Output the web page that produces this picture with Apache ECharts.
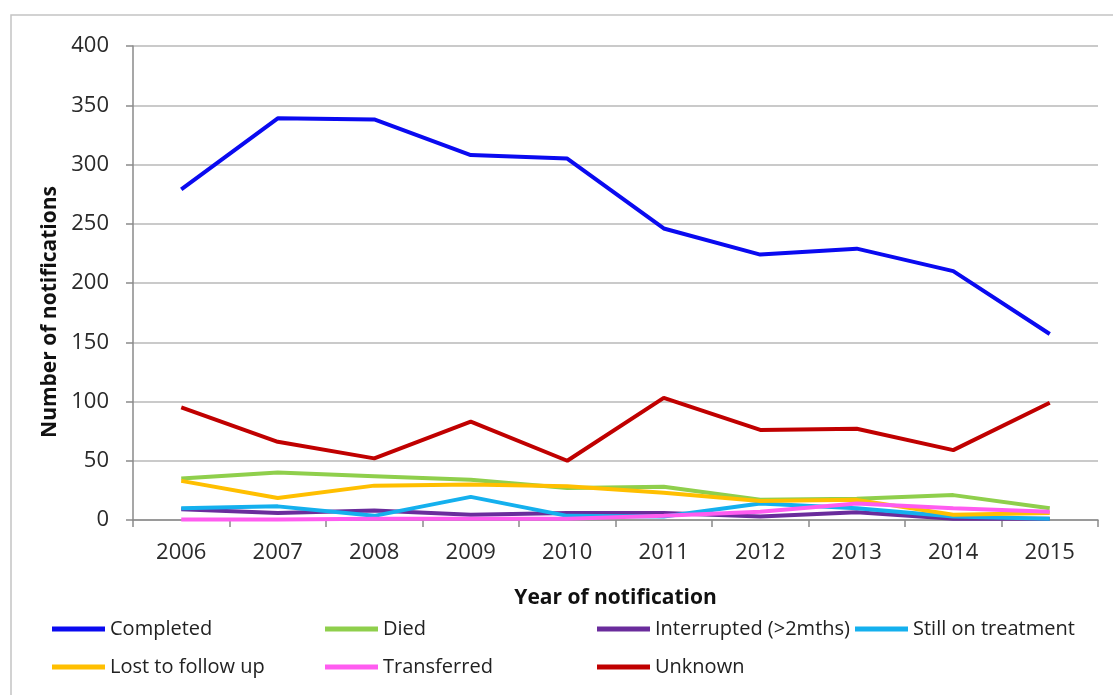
<!DOCTYPE html>
<html>
<head>
<meta charset="utf-8">
<script src="https://cdn.jsdelivr.net/npm/echarts@6/dist/echarts.min.js"></script>
<style>
html,body{margin:0;padding:0;background:#fff;}
#chart{width:1113px;height:695px;}
</style>
</head>
<body>
<div id="chart"></div>
<script>
var years = ['2006','2007','2008','2009','2010','2011','2012','2013','2014','2015'];
var completed   = [279, 339, 338, 308, 305, 246, 224, 229, 210, 157];
var died        = [35, 40, 37, 34, 27, 28, 17, 18, 21, 10];
var interrupted = [9, 6, 8, 4.5, 6, 6, 3, 6.5, 1, 1];
var stillOnTx   = [10, 11.5, 3.5, 19.5, 3.5, 3, 14, 10, 3, 1];
var lostFollow  = [33, 18.5, 29, 30, 28.5, 23, 16, 17, 4.5, 6];
var transferred = [0.5, 0.5, 1, 1, 1, 3.5, 7, 14, 10, 7];
var unknown     = [95, 66, 52, 83, 50, 103, 76, 77, 59, 99];
var yTicks = [0, 50, 100, 150, 200, 250, 300, 350, 400];

var seriesDefs = [
  {name:'Completed', data:completed, color:'#0a0af0'},
  {name:'Died', data:died, color:'#8fcf4c'},
  {name:'Interrupted (>2mths)', data:interrupted, color:'#6a2c9c'},
  {name:'Still on treatment', data:stillOnTx, color:'#14b0ee'},
  {name:'Lost to follow up', data:lostFollow, color:'#ffbf00'},
  {name:'Transferred', data:transferred, color:'#ff5cf0'},
  {name:'Unknown', data:unknown, color:'#c00000'}
];
var legendPos = [
  [52, 617], [325, 617], [597, 617], [855, 617],
  [52, 655], [325, 655], [597, 655]
];

var font = '"Open Sans", sans-serif';
var chart = echarts.init(document.getElementById('chart'));
var legends = seriesDefs.map(function(s, i){
  return {
    data:[s.name], left:legendPos[i][0], top:legendPos[i][1],
    icon:'rect', itemWidth:53, itemHeight:5, padding:0,
    selectedMode:false,
    textStyle:{fontFamily:font, fontSize:20, color:'#222', lineHeight:24}
  };
});
chart.setOption({
  animation:false,
  backgroundColor:'#fff',
  graphic:[{type:'polyline', shape:{points:[[11,695],[11,15],[1113,15]]},
    style:{stroke:'#c4c4c4', lineWidth:1.5, fill:null}}],
  legend: legends,
  grid:{left:133, right:15, top:46, bottom:175},
  xAxis:{
    type:'category', data:years, boundaryGap:true,
    name:'Year of notification', nameLocation:'middle', nameGap:68,
    nameTextStyle:{fontFamily:font, fontSize:21, fontWeight:'bold', color:'#111'},
    axisLine:{lineStyle:{color:'#8a8a8a', width:1.5}},
    axisTick:{show:true, length:7, alignWithLabel:false, lineStyle:{color:'#8a8a8a', width:1.5}},
    axisLabel:{fontFamily:font, fontSize:22, color:'#2a2a2a', margin:22}
  },
  yAxis:{
    type:'value', min:0, max:400, interval:50,
    name:'Number of notifications', nameLocation:'middle', nameGap:72,
    nameTextStyle:{fontFamily:font, fontSize:21, fontWeight:'bold', color:'#111', padding:[0,0,0,-58]},
    axisLine:{show:true, lineStyle:{color:'#8a8a8a', width:1.5}},
    axisTick:{show:true, length:7, lineStyle:{color:'#8a8a8a', width:1.5}},
    splitLine:{lineStyle:{color:'#b8b8b8', width:1.5}},
    axisLabel:{fontFamily:font, fontSize:22, color:'#2a2a2a', margin:24,
      formatter:function(v){ return yTicks.indexOf(v) >= 0 ? String(v) : ''; }}
  },
  series: seriesDefs.map(function(s){
    return {name:s.name, type:'line', data:s.data, symbol:'none', smooth:false,
      lineStyle:{color:s.color, width:4}, itemStyle:{color:s.color}};
  })
});
</script>
</body>
</html>
